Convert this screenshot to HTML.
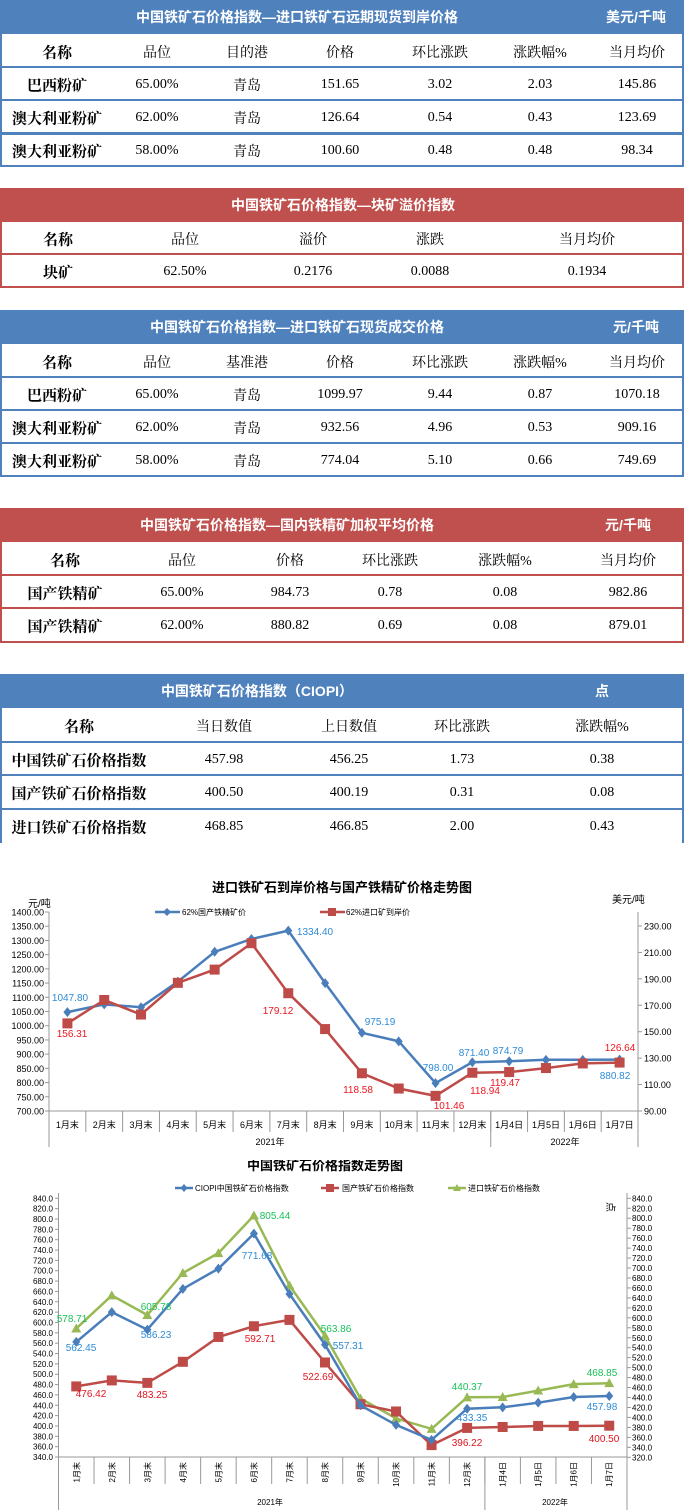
<!DOCTYPE html>
<html><head><meta charset="utf-8">
<style>
body{margin:0;width:684px;height:1510px;position:relative;background:#fff;font-family:"Liberation Serif","Noto Serif CJK SC","Noto Sans CJK SC",serif;overflow:hidden}
.hd{position:absolute;left:0;width:684px;height:34px;color:#fff;font-weight:bold;font-size:14px;font-family:"Liberation Sans","Noto Sans CJK SC",sans-serif}
.t{position:absolute;transform:translate(-50%,-50%);white-space:nowrap;font-size:14px;color:#000}
.ln{position:absolute;left:0;width:684px}
.vl{position:absolute;width:2px}
svg text{font-family:"Liberation Sans","Noto Sans CJK SC",sans-serif}
</style></head><body>
<svg id="c1" style="position:absolute;left:0;top:860px" width="684" height="300"></svg>
<svg id="c2" style="position:absolute;left:0;top:1160px" width="684" height="350"></svg>
<script>
var B='#4f81bd',R='#c0504d',root=document.body;
function add(h){root.insertAdjacentHTML('beforeend',h)}
function table(top,col,title,tx,unit,ux,cols,rows,rowY,last,noBottom){
 add('<div class="hd" style="top:'+top+'px;background:'+col+'"><span class="t" style="left:'+tx+'px;top:17px;color:#fff;font-weight:bold;font-family:inherit">'+title+'</span>'+(unit?'<span class="t" style="left:'+ux+'px;top:17px;color:#fff;font-weight:bold;font-family:inherit">'+unit+'</span>':'')+'</div>');
 var ys=rowY;
 var bot=ys[ys.length-1];
 add('<div class="vl" style="left:0;top:'+(top+34)+'px;height:'+(bot-top-34)+'px;background:'+col+'"></div>');
 add('<div class="vl" style="left:682px;top:'+(top+34)+'px;height:'+(bot-top-34)+'px;background:'+col+'"></div>');
 for(var i=0;i<ys.length;i++){ if(noBottom&&i==ys.length-1)break;
  add('<div class="ln" style="top:'+(ys[i]-1)+'px;height:'+((last&&i==ys.length-2)?3:2)+'px;background:'+col+'"></div>');}
 var prev=top+34;
 for(var r=0;r<rows.length;r++){var cy=(prev+ys[r])/2+1;prev=ys[r];
  for(var c=0;c<cols.length;c++){var txt=rows[r][c];
   var style='left:'+cols[c]+'px;top:'+cy+'px;';
   if(c==0)style+='font-weight:bold;font-size:15px;';
   add('<span class="t" style="'+style+'">'+txt+'</span>');}}
}
table(0,B,'中国铁矿石价格指数—进口铁矿石远期现货到岸价格',297,'美元/千吨',636,[57,157,247,340,440,540,637],
[['名称','品位','目的港','价格','环比涨跌','涨跌幅%','当月均价'],['巴西粉矿','65.00%','青岛','151.65','3.02','2.03','145.86'],['澳大利亚粉矿','62.00%','青岛','126.64','0.54','0.43','123.69'],['澳大利亚粉矿','58.00%','青岛','100.60','0.48','0.48','98.34']],[67,100,133,166],true);
table(188,R,'中国铁矿石价格指数—块矿溢价指数',343,'',0,[58,185,313,430,587],
[['名称','品位','溢价','涨跌','当月均价'],['块矿','62.50%','0.2176','0.0088','0.1934']],[254,287]);
table(310,B,'中国铁矿石价格指数—进口铁矿石现货成交价格',297,'元/千吨',636,[57,157,247,340,440,540,637],
[['名称','品位','基准港','价格','环比涨跌','涨跌幅%','当月均价'],['巴西粉矿','65.00%','青岛','1099.97','9.44','0.87','1070.18'],['澳大利亚粉矿','62.00%','青岛','932.56','4.96','0.53','909.16'],['澳大利亚粉矿','58.00%','青岛','774.04','5.10','0.66','749.69']],[377,410,443,476]);
table(508,R,'中国铁矿石价格指数—国内铁精矿加权平均价格',287,'元/千吨',628,[65,182,290,390,505,628],
[['名称','品位','价格','环比涨跌','涨跌幅%','当月均价'],['国产铁精矿','65.00%','984.73','0.78','0.08','982.86'],['国产铁精矿','62.00%','880.82','0.69','0.08','879.01']],[575,608,642]);
table(674,B,'中国铁矿石价格指数（CIOPI）',257,'点',602,[79,224,349,462,602],
[['名称','当日数值','上日数值','环比涨跌','涨跌幅%'],['中国铁矿石价格指数','457.98','456.25','1.73','0.38'],['国产铁矿石价格指数','400.50','400.19','0.31','0.08'],['进口铁矿石价格指数','468.85','466.85','2.00','0.43']],[742,775,809,843],false,true);

function S(id,h){document.getElementById(id).insertAdjacentHTML('beforeend',h)}
var BL='#4a7ebb',RD='#be4b48',GR='#98b954';
function line(id,pts,col,mk){var d='M'+pts.map(p=>p[0].toFixed(1)+','+p[1].toFixed(1)).join('L');
 S(id,'<path d="'+d+'" fill="none" stroke="'+col+'" stroke-width="2.5"/>');
 pts.forEach(p=>{if(mk=='d')S(id,'<path d="M'+p[0]+','+(p[1]-5)+'l4,5l-4,5l-4,-5z" fill="'+col+'"/>');
 else if(mk=='s')S(id,'<rect x="'+(p[0]-5)+'" y="'+(p[1]-5)+'" width="10" height="10" fill="'+col+'"/>');
 else S(id,'<path d="M'+p[0]+','+(p[1]-5)+'l5,9h-10z" fill="'+col+'"/>');});}
function lbl(id,x,y,t,c){S(id,'<text x="'+x+'" y="'+y+'" font-size="10" fill="'+c+'" text-anchor="middle">'+t+'</text>')}
(function(){var id='c1',L=49,Rt=638,n=16,w=(Rt-L)/n;
 function yl(v){return 52+(1400-v)*199/700} function yr(v){return 66+(230-v)*185/140}
 S(id,'<text x="342" y="32" font-size="13" font-weight="bold" text-anchor="middle">进口铁矿石到岸价格与国产铁精矿价格走势图</text>');
 S(id,'<text x="28" y="47" font-size="10">元/吨</text><text x="612" y="43" font-size="10">美元/吨</text>');
 for(var v=700;v<=1400;v+=50){var y=yl(v);S(id,'<text x="44" y="'+(y+3.5)+'" font-size="9" text-anchor="end">'+v.toFixed(2)+'</text><line x1="45" x2="49" y1="'+y+'" y2="'+y+'" stroke="#999"/>')}
 for(var v=90;v<=230;v+=20){var y=yr(v);S(id,'<text x="644" y="'+(y+3.5)+'" font-size="9">'+v.toFixed(2)+'</text><line x1="638" x2="642" y1="'+y+'" y2="'+y+'" stroke="#999"/>')}
 S(id,'<path d="M49,52V287M638,52V287M49,251H638" stroke="#999" fill="none"/>');
 var cats=['1月末','2月末','3月末','4月末','5月末','6月末','7月末','8月末','9月末','10月末','11月末','12月末','1月4日','1月5日','1月6日','1月7日'];
 for(var i=0;i<n;i++){var x=L+w*(i+.5);S(id,'<text x="'+x+'" y="268" font-size="9" text-anchor="middle">'+cats[i]+'</text>');S(id,'<line x1="'+(L+w*i)+'" x2="'+(L+w*i)+'" y1="251" y2="272" stroke="#999"/>')}
 S(id,'<line x1="'+(L+w*12)+'" x2="'+(L+w*12)+'" y1="251" y2="287" stroke="#999"/><text x="270" y="285" font-size="9" text-anchor="middle">2021年</text><text x="565" y="285" font-size="9" text-anchor="middle">2022年</text>');
 var b=[1047.8,1075,1065,1155,1260,1305,1334.4,1150,975.19,945,798,871.4,874.79,880,880,880.82],r=[156.31,174,163,187,197,217,179.12,152,118.58,107,101.46,118.94,119.47,122.5,126,126.64];
 line(id,b.map((v,i)=>[L+w*(i+.5),yl(v)]),BL,'d');line(id,r.map((v,i)=>[L+w*(i+.5),yr(v)]),RD,'s');
 S(id,'<path d="M155,52h25" stroke="'+BL+'" stroke-width="2.5"/><path d="M167,48l4,4l-4,4l-4,-4z" fill="'+BL+'"/><text x="182" y="55" font-size="8">62%国产铁精矿价</text>');
 S(id,'<path d="M320,52h25" stroke="'+RD+'" stroke-width="2.5"/><rect x="328" y="48" width="8" height="8" fill="'+RD+'"/><text x="346" y="55" font-size="8">62%进口矿到岸价</text>');
 var BC='#2e8bd6',RC='#f0141e';
 lbl(id,70,141,'1047.80',BC);lbl(id,72,177,'156.31',RC);lbl(id,315,75,'1334.40',BC);lbl(id,278,154,'179.12',RC);lbl(id,380,165,'975.19',BC);lbl(id,358,233,'118.58',RC);lbl(id,438,211,'798.00',BC);lbl(id,449,249,'101.46',RC);lbl(id,474,196,'871.40',BC);lbl(id,485,234,'118.94',RC);lbl(id,508,194,'874.79',BC);lbl(id,505,226,'119.47',RC);lbl(id,620,191,'126.64',RC);lbl(id,615,219,'880.82',BC);
})();
(function(){var id='c2',L=58.5,Rt=627,n=16,w=(Rt-L)/n;
 function yl(v){return 38.3+(840-v)*258.7/500} function yr(v){return 38.3+(840-v)*259/520}
 S(id,'<text x="325" y="10" font-size="13" font-weight="bold" text-anchor="middle">中国铁矿石价格指数走势图</text>');
 S(id,'<text x="607" y="42" font-size="10" transform="rotate(90 607 42)" >点</text>');
 for(var v=340;v<=840;v+=20){var y=yl(v);S(id,'<text x="53" y="'+(y+3)+'" font-size="8" text-anchor="end">'+v.toFixed(1)+'</text><line x1="55" x2="58.5" y1="'+y+'" y2="'+y+'" stroke="#999"/>')}
 for(var v=320;v<=840;v+=20){var y=yr(v);S(id,'<text x="632" y="'+(y+3)+'" font-size="8">'+v.toFixed(1)+'</text><line x1="627" x2="631" y1="'+y+'" y2="'+y+'" stroke="#999"/>')}
 S(id,'<path d="M58.5,33V350M627,33V350M58.5,297H627" stroke="#999" fill="none"/>');
 var cats=['1月末','2月末','3月末','4月末','5月末','6月末','7月末','8月末','9月末','10月末','11月末','12月末','1月4日','1月5日','1月6日','1月7日'];
 for(var i=0;i<n;i++){var x=L+w*(i+.5);S(id,'<text x="'+(x+3)+'" y="302" font-size="8" text-anchor="end" transform="rotate(-90 '+(x+3)+' 302)">'+cats[i]+'</text>');S(id,'<line x1="'+(L+w*i)+'" x2="'+(L+w*i)+'" y1="297" y2="324" stroke="#999"/>')}
 S(id,'<line x1="'+(L+w*12)+'" x2="'+(L+w*12)+'" y1="297" y2="350" stroke="#999"/><text x="270" y="345" font-size="8" text-anchor="middle">2021年</text><text x="555" y="345" font-size="8" text-anchor="middle">2022年</text>');
 var b=[562.45,620,586.23,665,704,771.68,655,557.31,440,402,373,433.35,436,445,456,457.98],r=[476.42,488,483.25,524,572,592.71,605,522.69,442,428,363,396.22,398,400,400,400.5],g=[578.71,645,605.78,690,730,805.44,665,563.86,438,398,377,440.37,441,454,467,468.85];
 line(id,g.map((v,i)=>[L+w*(i+.5),yr(v)]),GR,'t');line(id,r.map((v,i)=>[L+w*(i+.5),yl(v)]),RD,'s');line(id,b.map((v,i)=>[L+w*(i+.5),yl(v)]),BL,'d');
 S(id,'<path d="M175,28h18" stroke="'+BL+'" stroke-width="2.5"/><path d="M184,24l3.5,4l-3.5,4l-3.5,-4z" fill="'+BL+'"/><text x="195" y="31" font-size="8">CIOPI中国铁矿石价格指数</text>');
 S(id,'<path d="M321,28h18" stroke="'+RD+'" stroke-width="2.5"/><rect x="326" y="24" width="8" height="8" fill="'+RD+'"/><text x="342" y="31" font-size="8">国产铁矿石价格指数</text>');
 S(id,'<path d="M448,28h18" stroke="'+GR+'" stroke-width="2.5"/><path d="M457,24l4,7h-8z" fill="'+GR+'"/><text x="468" y="31" font-size="8">进口铁矿石价格指数</text>');
 var BC='#2e8bd6',RC='#e0141e',GC='#19c15a';
 lbl(id,72,162,'578.71',GC);lbl(id,81,191,'562.45',BC);lbl(id,91,237,'476.42',RC);lbl(id,156,150,'605.78',GC);lbl(id,156,178,'586.23',BC);lbl(id,152,238,'483.25',RC);lbl(id,275,59,'805.44',GC);lbl(id,257,99,'771.68',BC);lbl(id,260,182,'592.71',RC);lbl(id,336,172,'563.86',GC);lbl(id,348,189,'557.31',BC);lbl(id,318,220,'522.69',RC);lbl(id,467,230,'440.37',GC);lbl(id,472,261,'433.35',BC);lbl(id,467,286,'396.22',RC);lbl(id,602,216,'468.85',GC);lbl(id,602,250,'457.98',BC);lbl(id,604,282,'400.50',RC);
})();
</script>
</body></html>
